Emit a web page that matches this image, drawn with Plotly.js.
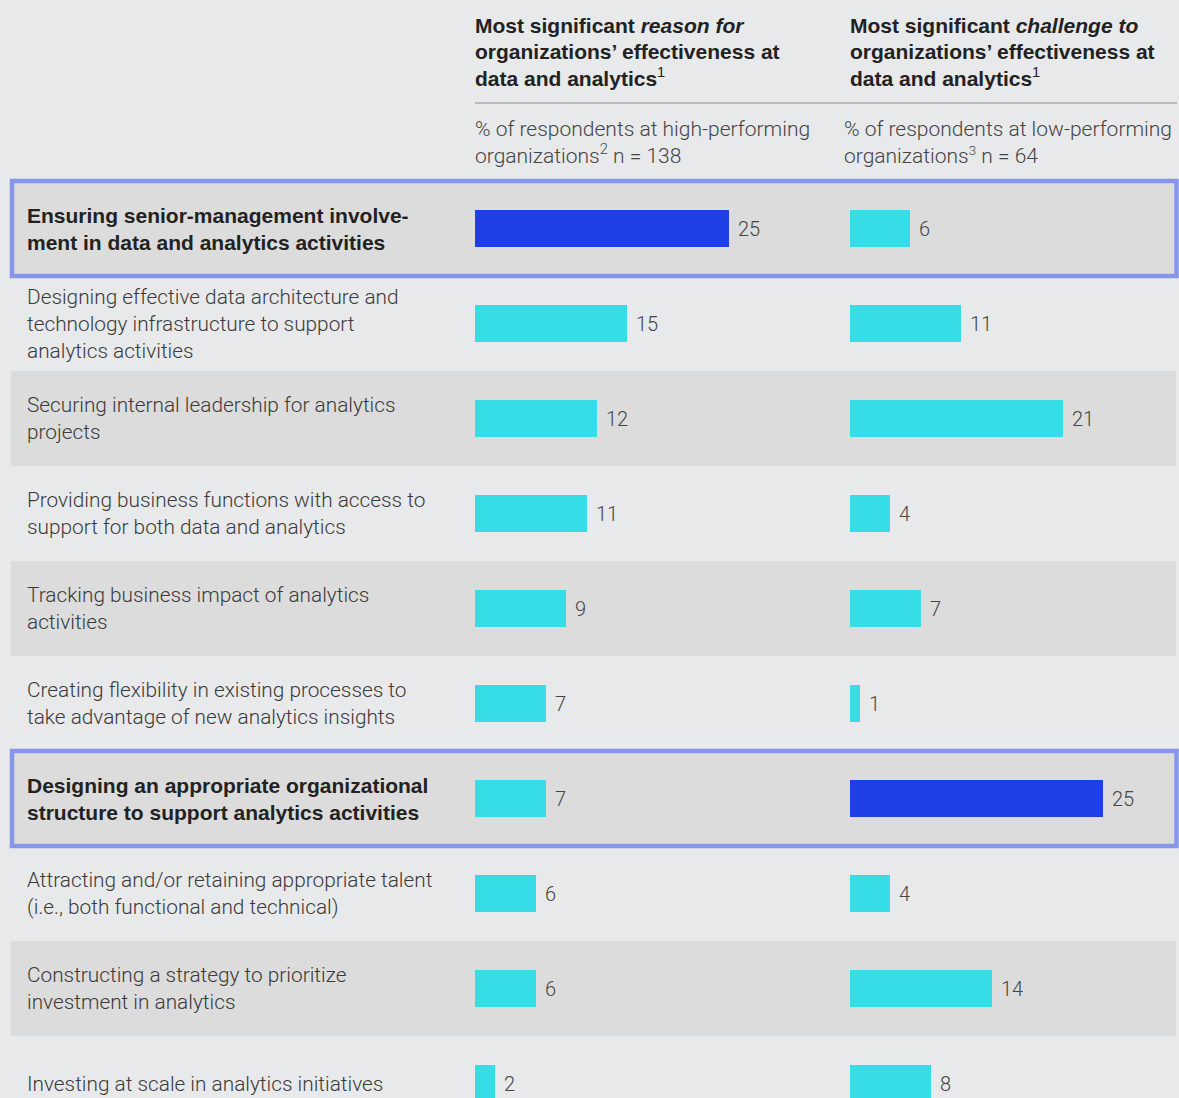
<!DOCTYPE html>
<html>
<head>
<meta charset="utf-8">
<script src="https://cdn.plot.ly/plotly-3.0.1.min.js"></script>
<style>
html,body{margin:0;padding:0;background:#e8e9eb;}
#chart{width:1179px;height:1098px;}
</style>
</head>
<body>
<div id="chart"></div>
<script>
// ---- data ----
const categories = [
  "Ensuring senior-management involve-<br>ment in data and analytics activities",
  "Designing effective data architecture and<br>technology infrastructure to support<br>analytics activities",
  "Securing internal leadership for analytics<br>projects",
  "Providing business functions with access to<br>support for both data and analytics",
  "Tracking business impact of analytics<br>activities",
  "Creating flexibility in existing processes to<br>take advantage of new analytics insights",
  "Designing an appropriate organizational<br>structure to support analytics activities",
  "Attracting and/or retaining appropriate talent<br>(i.e., both functional and technical)",
  "Constructing a strategy to prioritize<br>investment in analytics",
  "Investing at scale in analytics initiatives"
];
const highPerformingReason = [25, 15, 12, 11, 9, 7, 7, 6, 6, 2];
const lowPerformingChallenge = [6, 11, 21, 4, 7, 1, 25, 4, 14, 8];
const highlightedRows = [0, 6];
const leftHeaderLines = ["Most significant <i>reason for</i>", "organizations\u2019 effectiveness at",
  "data and analytics<span style=\"font-weight:300\"><sup>1</sup></span>"];
const rightHeaderLines = ["Most significant <i>challenge to</i>", "organizations\u2019 effectiveness at",
  "data and analytics<span style=\"font-weight:300\"><sup>1</sup></span>"];
const leftSub = "% of respondents at high-performing<br>organizations<sup>2</sup> n = 138";
const rightSub = "% of respondents at low-performing<br>organizations<span style=\"font-size:19px\"><sup>3</sup></span> n = 64";

// ---- styles ----
const W = 1179, H = 1098;
const CYAN = "#36dde6", BLUE = "#1f3fe6";
const BG = "#e8e9eb", BAND = "#dcdcdc", BORDER = "#8796e8";
const LIGHT = "Roboto, 'Liberation Sans', sans-serif";
const BOLD = "'Liberation Sans', Arial, sans-serif";
const px = v => v / W;

const idx = categories.map((c, i) => i);
const leftColors = idx.map(i => i === highlightedRows[0] ? BLUE : CYAN);
const rightColors = idx.map(i => i === highlightedRows[1] ? BLUE : CYAN);

const traces = [
  {type: "bar", orientation: "h", x: highPerformingReason, y: categories,
   xaxis: "x", yaxis: "y", marker: {color: leftColors}, width: 0.395, hoverinfo: "skip"},
  {type: "bar", orientation: "h", x: lowPerformingChallenge, y: categories,
   xaxis: "x2", yaxis: "y", marker: {color: rightColors}, width: 0.395, hoverinfo: "skip"}
];

const shapes = [];
idx.forEach(i => {
  if (i % 2 === 0) {
    shapes.push({type: "rect", xref: "paper", yref: "y", x0: px(11), x1: px(1176),
      y0: i - 0.5, y1: i + 0.5, fillcolor: BAND, line: {width: 0}, layer: "below"});
  }
});
highlightedRows.forEach(i => {
  shapes.push({type: "rect", xref: "paper", yref: "y", x0: px(12), x1: px(1176.5),
    y0: i - 0.5, y1: i + 0.5, fillcolor: "rgba(0,0,0,0)", line: {width: 4.5, color: BORDER}, layer: "above"});
});
shapes.push({type: "line", xref: "paper", yref: "paper", x0: px(475), x1: px(1177),
  y0: 1 - 103 / H, y1: 1 - 103 / H, line: {color: "#8a8a8a", width: 1}});

const annotations = [];
categories.forEach((c, i) => {
  const bold = highlightedRows.includes(i);
  annotations.push({xref: "paper", yref: "y", x: px(25), y: i, xanchor: "left", yanchor: "middle",
    text: c, showarrow: false, align: "left", yshift: 0,
    font: bold ? {family: BOLD, size: 21, color: "#222", weight: 700}
               : {family: LIGHT, size: 20.8, color: "#3a3a3a", weight: 300}});
  annotations.push({xref: "x", yref: "y", x: highPerformingReason[i], y: c, xanchor: "left", yanchor: "middle",
    xshift: 7, text: String(highPerformingReason[i]), showarrow: false,
    font: {family: LIGHT, size: 20, color: "#444", weight: 300}});
  annotations.push({xref: "x2", yref: "y", x: lowPerformingChallenge[i], y: c, xanchor: "left", yanchor: "middle",
    xshift: 7, text: String(lowPerformingChallenge[i]), showarrow: false,
    font: {family: LIGHT, size: 20, color: "#444", weight: 300}});
});
const headerY = [26, 51.5, 77];
[[leftHeaderLines, 473], [rightHeaderLines, 848]].forEach(([lines, x0]) => {
  lines.forEach((t, k) => {
    annotations.push({xref: "paper", yref: "paper", x: px(x0), y: 1 - headerY[k] / H,
      xanchor: "left", yanchor: "middle", text: t, showarrow: false, align: "left",
      font: {family: BOLD, size: 21, color: "#222", weight: 700}});
  });
});
annotations.push({xref: "paper", yref: "paper", x: px(473), y: 1 - 115 / H, xanchor: "left", yanchor: "top",
  text: leftSub, showarrow: false, align: "left",
  font: {family: LIGHT, size: 21, color: "#444", weight: 300}});
annotations.push({xref: "paper", yref: "paper", x: px(842), y: 1 - 115 / H, xanchor: "left", yanchor: "top",
  text: rightSub, showarrow: false, align: "left",
  font: {family: LIGHT, size: 21, color: "#444", weight: 300}});

const unit = 10.15;
const layout = {
  width: W, height: H, margin: {l: 0, r: 0, t: 0, b: 0},
  paper_bgcolor: BG, plot_bgcolor: "rgba(0,0,0,0)",
  showlegend: false, bargap: 0,
  font: {family: LIGHT},
  xaxis: {domain: [px(475), px(475 + 30 * unit)], range: [0, 30], visible: false, fixedrange: true},
  xaxis2: {domain: [px(849.5), px(849.5 + 32 * unit)], range: [0, 32], visible: false, fixedrange: true},
  yaxis: {domain: [0, 1], type: "category", categoryorder: "array", categoryarray: categories,
    range: [(H - 228.5) / 95, -228.5 / 95], visible: false, fixedrange: true},
  shapes: shapes, annotations: annotations
};

Plotly.newPlot("chart", traces, layout, {staticPlot: true, displayModeBar: false});
</script>
</body>
</html>
